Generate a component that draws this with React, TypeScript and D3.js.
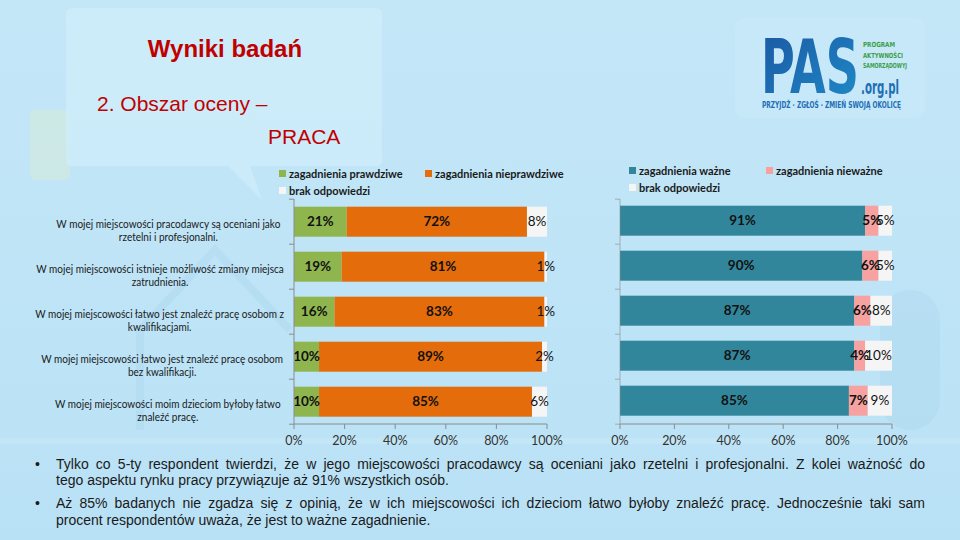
import React, { useEffect, useRef } from "react";
import * as d3 from "d3";

const categories = [
  ["W mojej miejscowości pracodawcy są oceniani jako", "rzetelni i profesjonalni."],
  ["W mojej miejscowości istnieje możliwość zmiany miejsca", "zatrudnienia."],
  ["W mojej miejscowości łatwo jest znaleźć pracę osobom z", "kwalifikacjami."],
  ["W mojej miejscowości łatwo jest znaleźć pracę osobom", "bez kwalifikacji."],
  ["W mojej miejscowości moim dzieciom byłoby łatwo", "znaleźć pracę."],
];
const truePct = [21, 19, 16, 10, 10];
const falsePct = [72, 81, 83, 89, 85];
const noAnswerA = [8, 1, 1, 2, 6];
const importantPct = [91, 90, 87, 87, 85];
const unimportantPct = [5, 6, 6, 4, 7];
const noAnswerB = [5, 5, 8, 10, 9];
const tickValues = [0, 0.2, 0.4, 0.6, 0.8, 1];
const legendA = ["zagadnienia prawdziwe", "zagadnienia nieprawdziwe", "brak odpowiedzi"];
const legendB = ["zagadnienia ważne", "zagadnienia nieważne", "brak odpowiedzi"];
const bullets = [
  [
    "Tylko co 5-ty respondent twierdzi, że w jego miejscowości pracodawcy są oceniani jako rzetelni i profesjonalni. Z kolei ważność do",
    "tego aspektu rynku pracy przywiązuje aż 91% wszystkich osób.",
  ],
  [
    "Aż 85% badanych nie zgadza się z opinią, że w ich miejscowości ich dzieciom łatwo byłoby znaleźć pracę. Jednocześnie taki sam",
    "procent respondentów uważa, że jest to ważne zagadnienie.",
  ],
];
const logoLines = ["PROGRAM", "AKTYWNOŚCI", "SAMORZĄDOWYJ"];

const COLORS_A = ["#8fb54e", "#e46c0a", "#f5f5f5"];
const COLORS_B = ["#31869b", "#f7a1a0", "#f5f5f5"];

export default function App() {
  const ref = useRef<SVGSVGElement | null>(null);

  useEffect(() => {
    const svg = d3.select(ref.current);
    svg.selectAll("*").remove();

    const defs = svg.append("defs");
    const bg = defs.append("linearGradient").attr("id", "bg").attr("x1", 0).attr("y1", 0).attr("x2", 0).attr("y2", 1);
    bg.append("stop").attr("offset", 0).attr("stop-color", "#c4e7f8");
    bg.append("stop").attr("offset", 1).attr("stop-color", "#b9e1f5");
    const pasG = defs.append("linearGradient").attr("id", "pas").attr("x1", 0).attr("y1", 0).attr("x2", 1).attr("y2", 1);
    pasG.append("stop").attr("offset", 0).attr("stop-color", "#1b56a3");
    pasG.append("stop").attr("offset", 1).attr("stop-color", "#1f8cc8");

    svg.append("rect").attr("width", 960).attr("height", 540).attr("fill", "url(#bg)");
    const deco = svg.append("g").attr("opacity", 0.3);
    deco.append("rect").attr("x", 30).attr("y", 110).attr("width", 40).attr("height", 70).attr("rx", 6).attr("fill", "#e9f0c0");
    deco.append("rect").attr("x", 880).attr("y", 290).attr("width", 60).attr("height", 140).attr("rx", 30).attr("fill", "#a9d3ea");
    deco.append("path").attr("d", "M140 430 L140 330 L215 250 L290 330").attr("fill", "none").attr("stroke", "#a6d3ec").attr("stroke-width", 8);
    deco.append("rect").attr("x", 0).attr("y", 438).attr("width", 960).attr("height", 6).attr("fill", "#d6f0fb");
    svg.append("path")
      .attr("d", "M72 8 H376 Q382 8 382 14 V160 Q382 166 376 166 H250 L262 200 L228 166 H72 Q66 166 66 160 V14 Q66 8 72 8 Z")
      .attr("fill", "#d0eefb").attr("opacity", 0.7);
    svg.append("rect").attr("x", 735).attr("y", 18).attr("width", 190).attr("height", 100).attr("rx", 10).attr("fill", "#c9eaf9").attr("opacity", 0.6);

    const TF = "Liberation Sans, Arial, sans-serif";
    svg.append("text").attr("x", 225).attr("y", 57).attr("text-anchor", "middle")
      .attr("font-family", TF).attr("font-weight", "bold").attr("font-size", 24)
      .attr("fill", "#c00000").text("Wyniki badań");
    svg.append("text").attr("x", 97).attr("y", 111)
      .attr("font-family", TF).attr("font-size", 21).attr("fill", "#c00000").text("2. Obszar oceny –");
    svg.append("text").attr("x", 268).attr("y", 144)
      .attr("font-family", TF).attr("font-size", 21).attr("fill", "#c00000").text("PRACA");

    // logo
    const LF = "DejaVu Sans Condensed, DejaVu Sans, sans-serif";
    const logo = svg.append("g");
    const pas = logo.append("text").attr("x", 0).attr("y", 0).attr("font-family", LF)
      .attr("font-weight", "bold").attr("font-size", 52).attr("fill", "url(#pas)").text("PAS");
    const pw = (pas.node() as SVGTextElement).getComputedTextLength();
    pas.attr("transform", `translate(761,93) scale(${98 / pw},1.45)`);
    logo.append("text").attr("x", 861).attr("y", 94).attr("font-family", LF)
      .attr("font-weight", "bold").attr("font-size", 19).attr("fill", "#1e6fb6")
      .attr("textLength", 38).attr("lengthAdjust", "spacingAndGlyphs").text(".org.pl");
    logoLines.forEach((t, i) => {
      logo.append("text").attr("x", 863).attr("y", 47 + i * 10.5).attr("font-family", LF)
        .attr("font-weight", "bold").attr("font-size", 7).attr("fill", "#3a9e4a")
        .attr("textLength", [32, 40, 44][i]).attr("lengthAdjust", "spacingAndGlyphs").text(t);
    });
    logo.append("text").attr("x", 762).attr("y", 108).attr("font-family", LF)
      .attr("font-weight", "bold").attr("font-size", 8.5).attr("fill", "#1e6fb6")
      .attr("textLength", 139).attr("lengthAdjust", "spacingAndGlyphs").text("PRZYJDŹ · ZGŁOŚ · ZMIEŃ SWOJĄ OKOLICĘ");

    const FONT = "Lato, 'Noto Sans', sans-serif";

    const drawLegend = (items: string[], colors: string[], xs: number[], ys: number[]) => {
      items.forEach((t, i) => {
        svg.append("rect").attr("x", xs[i]).attr("y", ys[i] - 4).attr("width", 7).attr("height", 7).attr("fill", colors[i]);
        svg.append("text").attr("x", xs[i] + 10).attr("y", ys[i]).attr("dy", "0.35em")
          .attr("font-family", FONT).attr("font-weight", "bold").attr("font-size", 11).attr("fill", "#1a1a1a").text(t);
      });
    };
    drawLegend(legendA, COLORS_A, [279, 425, 279], [174, 174, 191]);
    drawLegend(legendB, COLORS_B, [629, 766, 629], [171, 171, 188]);

    const y = d3.scaleBand<number>().domain(d3.range(categories.length)).range([199.2, 424.2]).paddingInner(1 / 3).paddingOuter(1 / 6);

    const drawChart = (series: number[][], colors: string[], x: d3.ScaleLinear<number, number>, catAxisOpacity: number, dyShift: number) => {
      const rows = series[0].map((_, i) => ({ a: series[0][i], b: series[1][i], c: series[2][i] }));
      const layers = d3.stack<any>().keys(["a", "b", "c"]).offset(d3.stackOffsetExpand)(rows);
      const g = svg.append("g");
      layers.forEach((layer, li) => {
        layer.forEach((d, ri) => {
          const y0 = (y(ri) as number) + dyShift;
          g.append("rect").attr("x", x(d[0])).attr("y", y0).attr("width", Math.max(0, x(d[1]) - x(d[0])))
            .attr("height", y.bandwidth()).attr("fill", colors[li]);
        });
      });
      layers.forEach((layer, li) => {
        layer.forEach((d, ri) => {
          const y0 = (y(ri) as number) + dyShift;
          g.append("text").attr("x", (x(d[0]) + x(d[1])) / 2).attr("y", y0 + y.bandwidth() / 2).attr("dy", "0.35em")
            .attr("text-anchor", "middle").attr("font-family", FONT).attr("font-size", 13.5)
            .attr("font-weight", li === 2 ? "normal" : "bold").attr("fill", "#111")
            .text(series[li][ri] + "%");
        });
      });
      const axY = 424;
      g.append("line").attr("x1", x(0)).attr("x2", x(1)).attr("y1", axY).attr("y2", axY).attr("stroke", "#8c8c8c");
      tickValues.forEach((t) => {
        g.append("line").attr("x1", x(t)).attr("x2", x(t)).attr("y1", axY).attr("y2", axY + 5).attr("stroke", "#8c8c8c");
        g.append("text").attr("x", x(t)).attr("y", 441).attr("dy", "0.35em").attr("text-anchor", "middle")
          .attr("font-family", FONT).attr("font-size", 12.5).attr("fill", "#333").text(d3.format(".0%")(t));
      });
      g.append("line").attr("x1", x(0)).attr("x2", x(0)).attr("y1", 199).attr("y2", axY).attr("stroke", "#8c8c8c").attr("opacity", catAxisOpacity);
      for (let k = 0; k <= categories.length; k++) {
        const ty = 199.2 + k * y.step();
        g.append("line").attr("x1", x(0) - 5).attr("x2", x(0)).attr("y1", ty).attr("y2", ty).attr("stroke", "#8c8c8c").attr("opacity", catAxisOpacity);
      }
    };

    const xL = d3.scaleLinear().domain([0, 1]).range([294, 547]);
    const xR = d3.scaleLinear().domain([0, 1]).range([620, 892]);
    drawChart([truePct, falsePct, noAnswerA], COLORS_A, xL, 1, 0);
    drawChart([importantPct, unimportantPct, noAnswerB], COLORS_B, xR, 0.6, -1);

    // category labels (narrowed horizontally to match Calibri-like widths)
    const SQ = 0.88;
    categories.forEach((lines, i) => {
      const c = (y(i) as number) + y.bandwidth() / 2;
      const t1 = svg.append("text").attr("x", 0).attr("y", 0).attr("dy", "0.35em").attr("text-anchor", "middle")
        .attr("font-family", FONT).attr("font-size", 11.4).attr("fill", "#1a1a1a").text(lines[0]);
      const w = (t1.node() as SVGTextElement).getComputedTextLength() * SQ;
      const cx = 284 - w / 2 - (248 - w) * 0.15;
      t1.attr("transform", `translate(${cx},${c + 2.5}) scale(${SQ},1)`);
      svg.append("text").attr("x", 0).attr("y", 0).attr("dy", "0.35em").attr("text-anchor", "middle")
        .attr("font-family", FONT).attr("font-size", 11.4).attr("fill", "#1a1a1a")
        .attr("transform", `translate(${cx},${c + 15.5}) scale(${SQ},1)`).text(lines[1]);
    });

    // bullet text: first line justified, second line natural
    const lineY = [[468.5, 485], [507.5, 524.5]];
    bullets.forEach((b, bi) => {
      svg.append("text").attr("x", 35).attr("y", lineY[bi][0]).attr("font-family", TF)
        .attr("font-size", 14).attr("fill", "#1a1a1a").text("•");
      b.forEach((ln, li) => {
        const t = svg.append("text").attr("x", 56).attr("y", lineY[bi][li]).attr("font-family", TF)
          .attr("font-size", 14).attr("fill", "#1a1a1a").text(ln);
        if (li === 0) {
          const w = (t.node() as SVGTextElement).getComputedTextLength();
          const spaces = ln.split(" ").length - 1;
          const extra = (869 - w) / spaces;
          if (extra > 0) t.attr("word-spacing", extra);
          else t.attr("textLength", 869).attr("lengthAdjust", "spacingAndGlyphs");
        }
      });
    });
  }, []);

  return (
    <svg ref={ref} width={960} height={540} style={{ position: "absolute", left: 0, top: 0, display: "block" }} />
  );
}
